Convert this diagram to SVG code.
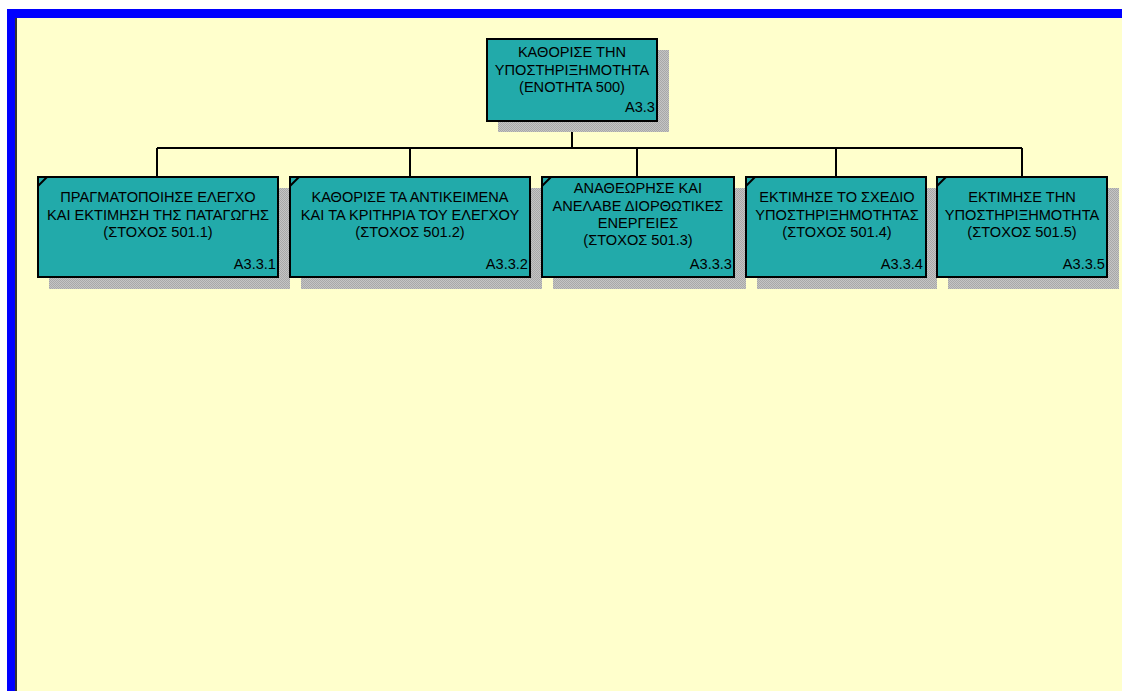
<svg xmlns="http://www.w3.org/2000/svg" width="1122" height="691" viewBox="0 0 1122 691">
<style>
.box{fill:#22aaaa;stroke:#000;stroke-width:2}
.sh{fill:url(#dots)}
.t{font-family:"Liberation Sans",Arial,sans-serif;font-size:14.6px;fill:#000;text-anchor:middle}
.id{font-family:"Liberation Sans",Arial,sans-serif;font-size:14.6px;fill:#000;text-anchor:end}
.cn{stroke:#000;stroke-width:2;fill:none}
</style>
<defs>
<pattern id="dots" width="2" height="2" patternUnits="userSpaceOnUse">
<rect width="2" height="2" fill="#c4c4c4"/>
<rect width="1" height="1" fill="#a8a8a8"/>
<rect x="1" y="1" width="1" height="1" fill="#a8a8a8"/>
</pattern>
</defs>
<rect width="1122" height="691" fill="#fff"/>
<rect x="7" y="9" width="1115" height="9" fill="#0000ff"/>
<rect x="7" y="9" width="9" height="682" fill="#0000ff"/>
<rect x="15" y="18" width="2" height="673" fill="#333"/>
<rect x="17" y="18" width="1105" height="673" fill="#ffffcc"/>

<g id="connectors">
<path class="cn" d="M572 121V148M157 148H1022M157 148V176M410 148V176M637 148V176M836 148V176M1022 148V176"/>
</g>

<g id="n0">
<rect class="sh" x="498" y="50" width="171" height="82"/>
<rect class="box" x="487" y="39" width="170" height="82"/>
<text class="t" x="572" y="57">ΚΑΘΟΡΙΣΕ ΤΗΝ</text>
<text class="t" x="572" y="75">ΥΠΟΣΤΗΡΙΞΗΜΟΤΗΤΑ</text>
<text class="t" x="572" y="92">(ΕΝΟΤΗΤΑ 500)</text>
<text class="id" x="655" y="112">A3.3</text>
</g>

<g id="n1">
<rect class="sh" x="49" y="188" width="241" height="101"/>
<rect class="box" x="38" y="177" width="240" height="100"/>
<path d="M38 186L47 177" stroke="#000" stroke-width="2"/>
<text class="t" x="158" y="202">ΠΡΑΓΜΑΤΟΠΟΙΗΣΕ ΕΛΕΓΧΟ</text>
<text class="t" x="158" y="220">ΚΑΙ ΕΚΤΙΜΗΣΗ ΤΗΣ ΠΑΤΑΓΩΓΗΣ</text>
<text class="t" x="158" y="237">(ΣΤΟΧΟΣ 501.1)</text>
<text class="id" x="276" y="269">A3.3.1</text>
</g>

<g id="n2">
<rect class="sh" x="301" y="188" width="241" height="101"/>
<rect class="box" x="290" y="177" width="240" height="100"/>
<path d="M290 186L299 177" stroke="#000" stroke-width="2"/>
<text class="t" x="410" y="202">ΚΑΘΟΡΙΣΕ ΤΑ ΑΝΤΙΚΕΙΜΕΝΑ</text>
<text class="t" x="410" y="220">ΚΑΙ ΤΑ ΚΡΙΤΗΡΙΑ ΤΟΥ ΕΛΕΓΧΟΥ</text>
<text class="t" x="410" y="237">(ΣΤΟΧΟΣ 501.2)</text>
<text class="id" x="528" y="269">A3.3.2</text>
</g>

<g id="n3">
<rect class="sh" x="553" y="188" width="193" height="101"/>
<rect class="box" x="542" y="177" width="192" height="100"/>
<path d="M542 186L551 177" stroke="#000" stroke-width="2"/>
<text class="t" x="638" y="193">ΑΝΑΘΕΩΡΗΣΕ ΚΑΙ</text>
<text class="t" x="638" y="211">ΑΝΕΛΑΒΕ ΔΙΟΡΘΩΤΙΚΕΣ</text>
<text class="t" x="638" y="228">ΕΝΕΡΓΕΙΕΣ</text>
<text class="t" x="638" y="245">(ΣΤΟΧΟΣ 501.3)</text>
<text class="id" x="732" y="269">A3.3.3</text>
</g>

<g id="n4">
<rect class="sh" x="757" y="188" width="180" height="101"/>
<rect class="box" x="746" y="177" width="180" height="100"/>
<path d="M746 186L755 177" stroke="#000" stroke-width="2"/>
<text class="t" x="837" y="202">ΕΚΤΙΜΗΣΕ ΤΟ ΣΧΕΔΙΟ</text>
<text class="t" x="837" y="220">ΥΠΟΣΤΗΡΙΞΗΜΟΤΗΤΑΣ</text>
<text class="t" x="837" y="237">(ΣΤΟΧΟΣ 501.4)</text>
<text class="id" x="923" y="269">A3.3.4</text>
</g>

<g id="n5">
<rect class="sh" x="948" y="188" width="171" height="101"/>
<rect class="box" x="937" y="177" width="170" height="100"/>
<path d="M937 186L946 177" stroke="#000" stroke-width="2"/>
<text class="t" x="1022" y="202">ΕΚΤΙΜΗΣΕ ΤΗΝ</text>
<text class="t" x="1022" y="220">ΥΠΟΣΤΗΡΙΞΗΜΟΤΗΤΑ</text>
<text class="t" x="1022" y="237">(ΣΤΟΧΟΣ 501.5)</text>
<text class="id" x="1105" y="269">A3.3.5</text>
</g>
</svg>
